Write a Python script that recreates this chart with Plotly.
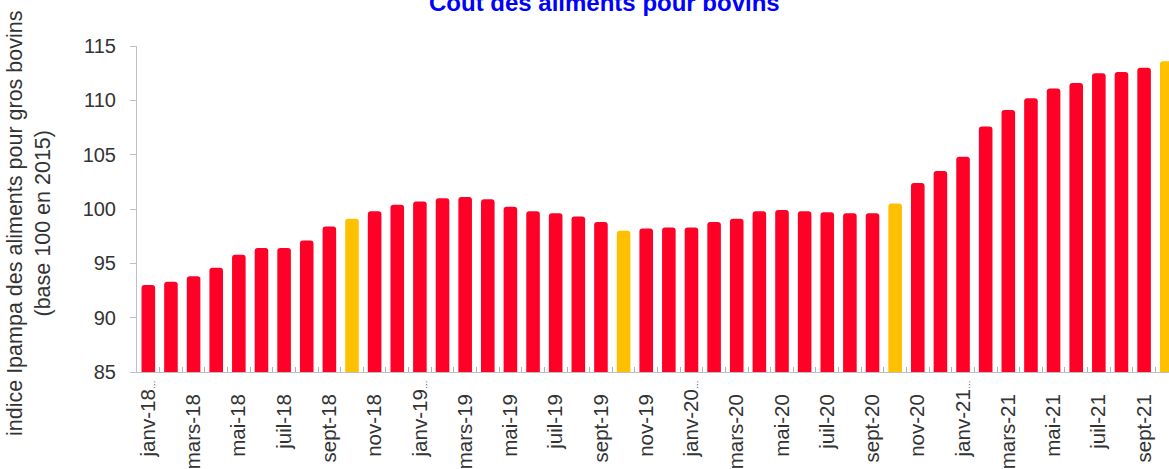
import plotly.graph_objects as go

months = ["janv", "févr", "mars", "avr", "mai", "juin", "juil", "août", "sept", "oct", "nov", "déc"]
years = ["18", "19", "20", "21"]
categories = [f"{m}-{y}" for y in years for m in months][:46]

values = [
    93.0, 93.3, 93.8, 94.6, 95.8, 96.4, 96.4, 97.1, 98.4, 99.1, 99.8, 100.4,
    100.7, 101.0, 101.1, 100.9, 100.2, 99.8, 99.6, 99.3, 98.8, 98.0, 98.2, 98.3,
    98.3, 98.8, 99.1, 99.8, 99.9, 99.8, 99.7, 99.6, 99.6, 100.5, 102.4, 103.5,
    104.8, 107.6, 109.1, 110.2, 111.1, 111.6, 112.5, 112.6, 113.0, 113.6,
]

# every other month labelled; January labels are truncated with a small ellipsis
tick_labels = []
for i, c in enumerate(categories):
    if i % 2 == 1:
        tick_labels.append("")
    elif c.startswith("janv"):
        tick_labels.append(c + "<span style='font-size:9px'>…</span>")
    else:
        tick_labels.append(c + "<span style='font-size:25px'>\u00a0\u00a0</span>")

RED = "#FF0026"
ORANGE = "#FFC000"
colors = [ORANGE if c.startswith("oct") else RED for c in categories]

fig = go.Figure(
    go.Bar(
        x=categories,
        y=values,
        marker=dict(color=colors, line=dict(width=0), cornerradius=3),
        width=0.6,
    )
)

AX = "#BFBFBF"
TXT = "#333333"
FONT = "Liberation Sans, Arial, sans-serif"

fig.update_layout(
    width=1169,
    height=469,
    margin=dict(l=137, r=0, t=46, b=97, autoexpand=False),
    paper_bgcolor="white",
    plot_bgcolor="white",
    showlegend=False,
    font=dict(family=FONT, size=20, color=TXT),
    xaxis=dict(
        type="category",
        range=[-0.5, 45.1],
        automargin=False,
        tickmode="array",
        tickvals=categories,
        ticktext=tick_labels,
        tickangle=-90,
        tickson="boundaries",
        ticks="inside",
        ticklen=5,
        tickwidth=1,
        tickcolor="#B0B0B0",
        showline=True,
        linecolor=AX,
        linewidth=1,
        showgrid=False,
        ticklabelstandoff=-1,
        tickfont=dict(size=20.5, color=TXT),
    ),
    yaxis=dict(
        range=[85, 115],
        automargin=False,
        dtick=5,
        tick0=85,
        ticks="outside",
        ticklen=6,
        tickcolor=AX,
        showline=True,
        linecolor=AX,
        linewidth=1,
        showgrid=False,
        zeroline=False,
        ticklabelstandoff=10,
        tickfont=dict(size=20, color=TXT),
    ),
    annotations=[
        dict(
            text="<b>Coût des aliments pour bovins</b>",
            xref="paper", yref="paper",
            x=(604 - 137) / 1032, y=1,
            xanchor="center", yanchor="bottom",
            yshift=28,
            showarrow=False,
            font=dict(family=FONT, size=24, color="#0000FF"),
        ),
        dict(
            text="indice Ipampa des aliments pour gros bovins<br>(base 100 en 2015)",
            xref="paper", yref="paper",
            x=0, y=0.5,
            xanchor="center", yanchor="middle",
            xshift=-(137 - 29), yshift=-15,
            textangle=-90,
            showarrow=False,
            font=dict(family=FONT, size=21.5, color=TXT),
        ),
    ],
)

fig.write_html(
    "out.html",
    config={"displayModeBar": False},
    post_script="document.body.style.margin='0';document.body.style.overflow='hidden';",
)
